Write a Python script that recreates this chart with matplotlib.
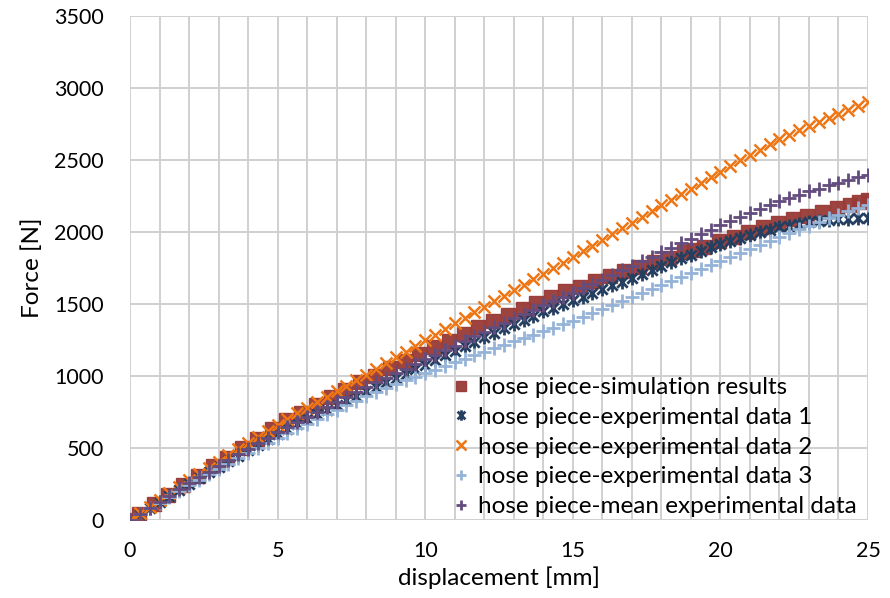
import numpy as np
import matplotlib
matplotlib.use("Agg")
import matplotlib.pyplot as plt
from matplotlib.path import Path

# ---------------- data ----------------
x_sim = [0, 0.3, 0.8, 1.3, 1.8, 2.3, 2.8, 3.3, 3.8, 4.3, 4.8, 5.3, 5.8, 6.3, 6.8,
         7.3, 7.8, 8.3, 8.8, 9.3, 9.8, 10.3, 10.8, 11.3, 11.8, 12.3, 12.8, 13.3,
         13.75, 14.25, 14.75, 15.25, 15.75, 16.25, 16.75, 17.25, 17.75, 18.25,
         18.75, 19.1, 19.45, 19.95, 20.45, 20.95, 21.45, 21.95, 22.45, 22.95,
         23.45, 23.95, 24.4, 24.7, 25.0]
f_sim = [0, 40, 108, 175, 240, 305, 372, 432, 497, 565, 630, 692, 746, 797, 853,
         900, 955, 1003, 1054, 1104, 1156, 1200, 1246, 1292, 1337, 1380, 1423, 1464,
         1506, 1550, 1587, 1620, 1660, 1694, 1728, 1758, 1792, 1822,
         1860, 1878, 1897, 1935, 1967, 2002, 2032, 2060, 2093, 2112,
         2141, 2165, 2190, 2205, 2222]

# experimental displacement samples (every 1/3 mm)
x_exp = np.round(np.linspace(0, 25, 76), 3)

f_exp1 = [0, 42, 83, 125, 167, 208, 250, 290, 330, 370, 408, 447, 485, 523, 562,
          600, 633, 667, 700, 733, 767, 800, 832, 863, 895, 925, 955, 985, 1016, 1047,
          1078, 1110, 1143, 1175, 1207, 1238, 1270, 1301, 1331, 1362, 1391, 1419,
          1448, 1474, 1499, 1525, 1551, 1576, 1602, 1629, 1656, 1683, 1710, 1736,
          1763, 1789, 1816, 1842, 1867, 1893, 1918, 1939, 1959, 1980, 1997, 2015,
          2032, 2043, 2055, 2066, 2073, 2081, 2088, 2092, 2096, 2100]
f_exp2 = [0, 47, 93, 140, 185, 230, 275, 318, 362, 405, 448, 492, 535, 577, 618,
          660, 700, 740, 780, 818, 857, 895, 933, 972, 1010, 1050, 1090, 1130, 1170, 1210,
          1250, 1288, 1327, 1365, 1403, 1442, 1480, 1518, 1557, 1595, 1633, 1672,
          1710, 1748, 1787, 1825, 1865, 1905, 1945, 1985, 2025, 2065, 2105, 2145,
          2185, 2223, 2262, 2300, 2340, 2380, 2420, 2458, 2497, 2535, 2572, 2608,
          2645, 2675, 2705, 2735, 2763, 2792, 2820, 2847, 2873, 2900]
f_exp3 = [0, 40, 80, 120, 160, 200, 240, 278, 317, 355, 392, 428, 465, 500, 535,
          570, 603, 637, 670, 702, 733, 765, 797, 828, 860, 888, 917, 945, 970, 995,
          1020, 1045, 1070, 1095, 1120, 1145, 1170, 1193, 1217, 1240, 1263, 1287,
          1310, 1335, 1360, 1385, 1412, 1438, 1465, 1493, 1520, 1548, 1576, 1604,
          1632, 1660, 1687, 1715, 1742, 1770, 1797, 1825, 1852, 1880, 1908, 1937,
          1965, 1992, 2018, 2045, 2070, 2095, 2120, 2143, 2167, 2190]
f_mean = [0, 43, 85, 128, 170, 213, 255, 296, 336, 377, 416, 456, 495, 533, 572,
          610, 646, 681, 717, 751, 786, 820, 854, 888, 922, 955, 987, 1020, 1052, 1083,
          1115, 1147, 1178, 1210, 1243, 1275, 1308, 1339, 1369, 1400, 1430, 1460,
          1490, 1519, 1549, 1578, 1609, 1639, 1670, 1701, 1733, 1764, 1796, 1829,
          1861, 1891, 1922, 1952, 1983, 2015, 2046, 2075, 2103, 2132, 2159, 2186,
          2213, 2236, 2259, 2282, 2302, 2323, 2343, 2361, 2379, 2397]

labels = ["hose piece-simulation results",
          "hose piece-experimental data 1",
          "hose piece-experimental data 2",
          "hose piece-experimental data 3",
          "hose piece-mean experimental data"]

x_ticks = [0, 5, 10, 15, 20, 25]
y_ticks = [0, 500, 1000, 1500, 2000, 2500, 3000, 3500]

# ---------------- style ----------------
plt.rcParams['font.family'] = ['Lato', 'DejaVu Sans']
FS_TICK = 15.5
FS_LAB = 17.5
FS_LEG = 17.5

# Excel-like star marker: X with vertical bar
star = Path([(0, -1), (0, 1), (-0.75, -0.75), (0.75, 0.75), (-0.75, 0.75), (0.75, -0.75)],
            [Path.MOVETO, Path.LINETO, Path.MOVETO, Path.LINETO, Path.MOVETO, Path.LINETO])

fig = plt.figure(figsize=(8.9, 5.98), dpi=100)
ax = fig.add_axes([130/890, 78/598, 738/890, 504/598])

grid_c = '#D0D0D0'
for xv in np.arange(0, 26, 1):
    ax.axvline(xv, color=grid_c, lw=1.4, zorder=0)
for yv in y_ticks:
    ax.axhline(yv, color=grid_c, lw=1.4, zorder=0)

ax.plot(x_sim, f_sim, linestyle='none', marker='s', ms=9.5, color='#983A37',
        mec='#983A37', alpha=0.95, label=labels[0], zorder=2)
ax.plot(x_exp, f_exp1, linestyle='none', marker=star, ms=10, mew=2.0,
        color='#243F60', label=labels[1], zorder=3)
ax.plot(x_exp, f_exp2, linestyle='none', marker='x', ms=9, mew=1.8,
        color='#EE7614', label=labels[2], zorder=4)
ax.plot(x_exp, f_exp3, linestyle='none', marker='+', ms=10, mew=2.0,
        color='#95B3D7', label=labels[3], zorder=5)
ax.plot(x_exp, f_mean, linestyle='none', marker='+', ms=10, mew=2.0,
        color='#634C7E', label=labels[4], zorder=6)

ax.set_xlim(0, 25)
ax.set_ylim(0, 3500)
ax.set_xticks(x_ticks)
ax.set_yticks(y_ticks)
ax.tick_params(axis='both', length=0, labelsize=FS_TICK)
ax.tick_params(axis='y', pad=19)
ax.tick_params(axis='x', pad=15)
for s in ax.spines.values():
    s.set_visible(False)

ax.set_xlabel("displacement [mm]", fontsize=FS_LAB, labelpad=4)
ax.set_ylabel("Force [N]", fontsize=FS_LAB, labelpad=8)

leg = ax.legend(loc='upper left', bbox_to_anchor=(455/890, 1 - 377/598),
                bbox_transform=fig.transFigure, frameon=False, fontsize=FS_LEG,
                handlelength=0.5, handletextpad=0.45, labelspacing=0.36,
                borderpad=0, borderaxespad=0, markerscale=0.75)

fig.savefig("out.png", dpi=100)
